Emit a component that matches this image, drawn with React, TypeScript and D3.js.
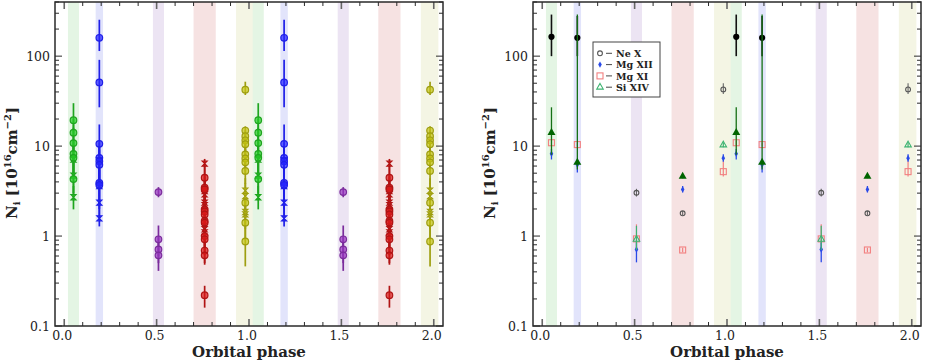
import React from "react";
import * as d3 from "d3";

type Pt = [number, number, number]; // value, lower error, upper error

// orbital phase bins (repeated over two cycles)
const phases = [0.05, 0.19, 0.51, 0.76, 0.98];
const cycles = [0, 1];

// shaded phase windows, drawn in this order
const bandSpans: [number, number][] = [
  [0.02, 0.08],
  [0.17, 0.21],
  [0.48, 0.54],
  [0.7, 0.82],
  [0.93, 1.025],
];
const bandFills = ["#e4f5e4", "#e2e4fb", "#ece4f3", "#f6e2e2", "#f4f5e4"];

// left panel: per phase bin, circle points and cross points
const circleSets: Pt[][] = [
  [[19.4, 12, 30], [14.1, 9, 20], [10.8, 7, 16], [8.2, 5, 12], [7.4, 4.5, 11], [4.3, 2.5, 6.5]],
  [[160, 114, 254], [51, 27, 91], [10.6, 6, 17.4], [7.4, 4.2, 11], [6.8, 4, 10], [6.2, 3.6, 9], [3.9, 2.2, 6], [3.7, 2, 5.5]],
  [[3.08, 2.7, 3.5], [0.92, 0.6, 1.31], [0.71, 0.5, 1.0], [0.61, 0.41, 0.85]],
  [[4.45, 3, 6], [3.45, 2.3, 5], [3.3, 2.2, 4.8], [1.98, 1.3, 2.9], [1.88, 1.25, 2.8], [1.74, 1.15, 2.6], [1.47, 1, 2.2], [1.41, 0.95, 2.1], [1.0, 0.7, 1.5], [0.92, 0.62, 1.35], [0.69, 0.5, 1.0], [0.61, 0.48, 0.8], [0.22, 0.16, 0.28]],
  [[42.4, 37, 52], [14.9, 11, 16.6], [12.9, 9.5, 15], [11.6, 8.5, 14], [10.5, 7.5, 13], [8.1, 6, 11], [7.3, 5.3, 10], [6.6, 4.8, 9], [5.3, 3.8, 7.5], [2.35, 1.6, 3.2], [1.41, 0.9, 2.0], [0.87, 0.46, 1.3]],
];
const crossSets: Pt[][] = [
  [[7.1, 4.5, 10], [4.7, 3, 7], [2.7, 1.98, 3.6]],
  [[7.0, 4, 10], [3.6, 2, 5.5], [2.35, 1.5, 3.5], [1.57, 1.28, 2.0]],
  [],
  [[6.4, 5, 7.2], [3.17, 2.2, 4.5], [2.9, 2, 4.2], [2.35, 1.6, 3.4], [2.2, 1.5, 3.2], [1.19, 0.8, 1.7], [1.1, 0.75, 1.6]],
  [[3.2, 2.3, 4.4], [2.78, 2, 3.9], [1.85, 1.3, 2.6], [1.74, 1.2, 2.5]],
];
const groupColors = ["#1fa51f", "#1f1fe8", "#7b2c9c", "#b01414", "#9e9e10"];

// right panel: one entry per phase bin, null = no measurement
const neX: (Pt | null)[] = [null, null, [3.03, 2.75, 3.35], [1.79, 1.7, 1.9], [42.7, 38, 50]];
const neXFilled: (Pt | null)[] = [[164, 100, 290], [160, 100, 280], null, null, null];
const mgXII: (Pt | null)[] = [[8.2, 7.1, 9.3], [6.2, 5.1, 7.0], [0.71, 0.51, 0.85], [3.3, 3.05, 3.6], [7.35, 6.7, 8.1]];
const mgXI: (Pt | null)[] = [[10.9, 10.3, 11.5], [10.4, 9.9, 11], [0.93, 0.7, 1.35], [0.7, 0.66, 0.74], [5.2, 4.6, 6.8]];
const siXIV: (Pt | null)[] = [null, null, [0.92, 0.7, 1.3], null, [10.3, 9.7, 11]];
const siXIVFilled: (Pt | null)[] = [[14.1, 8, 27], [6.6, 5.5, 290], null, [4.6, 4.4, 4.8], null];

const legendNames = ["Ne X", "Mg XII", "Mg XI", "Si XIV"];

const xTicks = d3.range(0, 21).map((i) => i / 10);
const yMajor = [0.1, 1, 10, 100];
const yMinor = yMajor.flatMap((d) => d3.range(2, 10).map((k) => k * d)).filter((v) => v <= 400);

const W = 926;
const H = 363;
const PW = 388;
const TOP = 2;
const BOT = 326;
const serif = "'DejaVu Serif', serif";

const y = d3.scaleLog().domain([0.1, 400]).range([BOT, TOP]);

const diamond = "M0,-3.2L1.8,0L0,3.2L-1.8,0Z";
const tri = (s: number) => `M0,${-s * 0.58}L${s / 2},${s * 0.29}L${-s / 2},${s * 0.29}Z`;
const hourglass = "M-2.6,-2.6L2.6,-2.6L-2.6,2.6L2.6,2.6Z";

function Frame({ x0 }: { x0: number }) {
  const x = d3.scaleLinear().domain([-0.05, 2.05]).range([x0, x0 + PW]);
  const x1 = x0 + PW;
  const axisCol = "#2a2a2a";
  return (
    <g>
      {xTicks.map((t, i) => {
        const major = i % 5 === 0;
        const len = major ? 7 : 4;
        return (
          <g key={"xt" + i} stroke={major ? "#666" : axisCol} strokeWidth={major ? 1.6 : 1}>
            <line x1={x(t)} x2={x(t)} y1={BOT} y2={BOT - len} />
            <line x1={x(t)} x2={x(t)} y1={TOP} y2={TOP + len} />
          </g>
        );
      })}
      {yMajor.concat(yMinor).map((v, i) => {
        const len = i < yMajor.length ? 7 : 4;
        return (
          <g key={"yt" + i} stroke={axisCol} strokeWidth={1}>
            <line x1={x0} x2={x0 + len} y1={y(v)} y2={y(v)} />
            <line x1={x1} x2={x1 - len} y1={y(v)} y2={y(v)} />
          </g>
        );
      })}
      <rect x={x0} y={TOP} width={PW} height={BOT - TOP} fill="none" stroke={axisCol} strokeWidth={1.5} />
      {xTicks
        .filter((_, i) => i % 5 === 0)
        .map((t) => (
          <text key={"xl" + t} x={x(t) - 2} y={340} textAnchor="middle" fontFamily={serif} fontSize={12.5} fill="#222">
            {t.toFixed(1)}
          </text>
        ))}
      {yMajor.map((v) => (
        <text key={"yl" + v} x={x0 - 5} y={y(v) + 4.5} textAnchor="end" fontFamily={serif} fontSize={12.5} fill="#222">
          {v < 1 ? "0.1" : String(v)}
        </text>
      ))}
      <text x={x(1)} y={357} textAnchor="middle" fontFamily={serif} fontSize={15} fontWeight="bold" fill="#222">
        Orbital phase
      </text>
      <text
        transform={`translate(${x0 - 38.5},163) rotate(-90)`}
        textAnchor="middle"
        fontFamily={serif}
        fontSize={15}
        fontWeight="bold"
        fill="#222"
      >
        N<tspan fontSize={10} dy={3}>i</tspan>
        <tspan dy={-3}> [10</tspan>
        <tspan fontSize={10} dy={-6}>16</tspan>
        <tspan dy={6}>cm</tspan>
        <tspan fontSize={10} dy={-6}>−2</tspan>
        <tspan dy={6}>]</tspan>
      </text>
    </g>
  );
}

function Bands({ x0 }: { x0: number }) {
  const x = d3.scaleLinear().domain([-0.05, 2.05]).range([x0, x0 + PW]);
  return (
    <g>
      {cycles.flatMap((c) =>
        bandSpans.map(([a, b], i) => (
          <rect key={c + "-" + i} x={x(a + c)} y={TOP} width={x(b + c) - x(a + c)} height={BOT - TOP} fill={bandFills[i]} />
        ))
      )}
    </g>
  );
}

function LeftPanel({ x0 }: { x0: number }) {
  const x = d3.scaleLinear().domain([-0.05, 2.05]).range([x0, x0 + PW]);
  return (
    <g>
      <Bands x0={x0} />
      {cycles.flatMap((c) =>
        phases.map((p, gi) => {
          const cx = x(p + c);
          const col = groupColors[gi];
          const fill = d3.color(col)!.brighter(0.6).formatHex();
          const all = circleSets[gi].concat(crossSets[gi]);
          return (
            <g key={c + "-" + gi}>
              {all.map((d, j) => (
                <line key={"e" + j} x1={cx} x2={cx} y1={y(d[1])} y2={y(d[2])} stroke={col} strokeWidth={1.7} />
              ))}
              {crossSets[gi].map((d, j) => (
                <path key={"x" + j} d={hourglass} transform={`translate(${cx},${y(d[0])})`} fill={fill} fillOpacity={0.6} stroke={col} strokeWidth={1.1} />
              ))}
              {circleSets[gi].map((d, j) => (
                <circle key={"c" + j} cx={cx} cy={y(d[0])} r={3.3} fill={fill} fillOpacity={0.7} stroke={col} strokeWidth={1.2} />
              ))}
            </g>
          );
        })
      )}
      <Frame x0={x0} />
    </g>
  );
}

function RightPanel({ x0 }: { x0: number }) {
  const x = d3.scaleLinear().domain([-0.05, 2.05]).range([x0, x0 + PW]);
  const series = [
    { data: mgXI, col: "#f28080", w: 1.2, mark: (cx: number, cy: number) => <rect x={cx - 3} y={cy - 3} width={6} height={6} fill="none" stroke="#f28080" strokeWidth={1.1} /> },
    { data: neX, col: "#666", w: 1.1, mark: (cx: number, cy: number) => <circle cx={cx} cy={cy} r={2.4} fill="none" stroke="#555" strokeWidth={1.1} /> },
    { data: neXFilled, col: "#111", w: 1.6, mark: (cx: number, cy: number) => <circle cx={cx} cy={cy} r={3.1} fill="#000" /> },
    { data: mgXII, col: "#2a4ae8", w: 1.3, mark: (cx: number, cy: number) => <path d={diamond} transform={`translate(${cx},${cy})`} fill="#2a4ae8" /> },
    { data: siXIV, col: "#3cb371", w: 1.2, mark: (cx: number, cy: number) => <path d={tri(6.5)} transform={`translate(${cx},${cy})`} fill="none" stroke="#3cb371" strokeWidth={1.1} /> },
    { data: siXIVFilled, col: "#157015", w: 1.3, mark: (cx: number, cy: number) => <path d={tri(8)} transform={`translate(${cx},${cy})`} fill="#006400" /> },
  ];
  const legendMarks = [1, 3, 0, 4];
  return (
    <g>
      <Bands x0={x0} />
      {series.map((s, si) => (
        <g key={"s" + si}>
          {cycles.flatMap((c) =>
            phases.map((p, i) => {
              const d = s.data[i];
              if (!d) return null;
              const cx = x(p + c);
              return (
                <g key={c + "-" + i}>
                  <line x1={cx} x2={cx} y1={y(d[1])} y2={y(d[2])} stroke={s.col} strokeWidth={s.w} />
                  {s.mark(cx, y(d[0]))}
                </g>
              );
            })
          )}
        </g>
      ))}
      <g>
        <rect x={593} y={42} width={67} height={55} fill="#fff" stroke="#444" strokeWidth={1} />
        {legendNames.map((name, i) => {
          const ly = 53.3 + i * 11.3;
          return (
            <g key={name}>
              {series[legendMarks[i]].mark(600, ly)}
              <line x1={606} x2={612} y1={ly} y2={ly} stroke="#333" strokeWidth={0.9} />
              <text x={616} y={ly + 3.6} fontFamily={serif} fontSize={9.5} fontWeight="bold" fill="#222">
                {name}
              </text>
            </g>
          );
        })}
      </g>
      <Frame x0={x0} />
    </g>
  );
}

export default function App() {
  return (
    <svg width={W} height={H} style={{ position: "absolute", left: 0, top: 0, background: "#fff" }}>
      <rect width={W} height={H} fill="#fff" />
      <LeftPanel x0={55} />
      <RightPanel x0={533} />
    </svg>
  );
}
